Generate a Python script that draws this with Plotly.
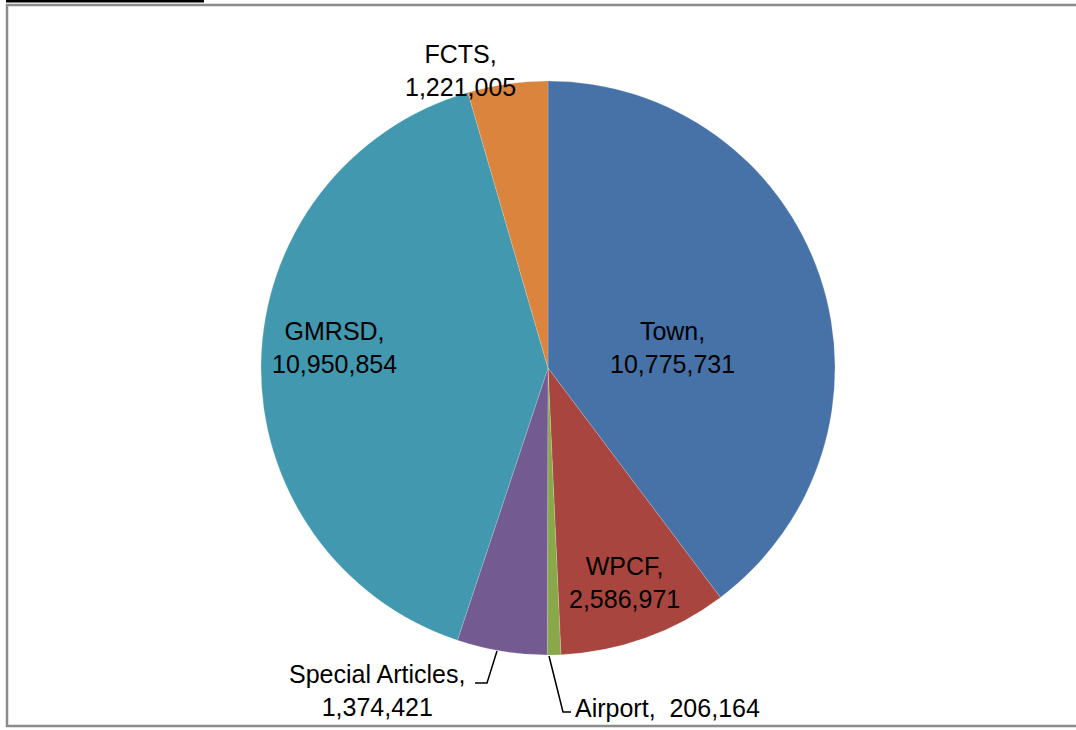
import plotly.graph_objects as go

labels = ["Town", "WPCF", "Airport", "Special Articles", "GMRSD", "FCTS"]
values = [10775731, 2586971, 206164, 1374421, 10950854, 1221005]
colors = ["#4672A8", "#A8453F", "#88A84A", "#735A90", "#4198AF", "#DA843E"]

W, H = 1076, 730

def px(x):
    return x / W

def py(y):
    return 1 - y / H

fig = go.Figure(go.Pie(
    labels=labels, values=values, sort=False, direction="clockwise", rotation=0,
    marker=dict(colors=colors, line=dict(color="rgba(255,255,255,0.35)", width=0.5)),
    textinfo="none", hoverinfo="label+value", showlegend=False,
    domain=dict(x=[px(261), px(835)], y=[py(655), py(81)]),
))

fnt = dict(family="Liberation Sans, Arial, sans-serif", size=25, color="#000000")

def fmt(v):
    return f"{v:,}"

label_pos = {
    "Town": (672, 347),
    "WPCF": (624, 582),
    "GMRSD": (334, 347),
    "FCTS": (460, 71),
    "Special Articles": (377, 690),
}
ann = []
for lab, val in zip(labels, values):
    if lab in label_pos:
        x, y = label_pos[lab]
        ann.append(dict(x=px(x), y=py(y), xref="paper", yref="paper",
                        text=f"{lab},<br>{fmt(val)}", showarrow=False,
                        font=fnt, align="center", xanchor="center", yanchor="middle"))
    elif lab == "Airport":
        ann.append(dict(x=px(573), y=py(708), xref="paper", yref="paper",
                        text=f"{lab},  {fmt(val)}", showarrow=False,
                        font=fnt, xanchor="left", yanchor="middle"))

shapes = [
    dict(type="rect", xref="paper", yref="paper", x0=px(7), y0=py(726), x1=px(1090), y1=py(5),
         line=dict(color="#8C8C8C", width=2.5), fillcolor="rgba(0,0,0,0)"),
    dict(type="line", xref="paper", yref="paper", x0=px(6), y0=py(1), x1=px(204), y1=py(1),
         line=dict(color="#000000", width=3)),
    dict(type="path", xref="paper", yref="paper",
         path=f"M {px(497)},{py(651)} L {px(487)},{py(683)} L {px(475)},{py(683)}",
         line=dict(color="#000000", width=1.5)),
    dict(type="path", xref="paper", yref="paper",
         path=f"M {px(549)},{py(656)} L {px(563)},{py(712)} L {px(571)},{py(712)}",
         line=dict(color="#000000", width=1.5)),
]

fig.update_layout(
    width=W, height=H, margin=dict(l=0, r=0, t=0, b=0),
    paper_bgcolor="white", plot_bgcolor="white",
    annotations=ann, shapes=shapes,
)

fig.write_html("out.html", config={"displayModeBar": False},
               post_script="document.body.style.margin='0';document.body.style.overflow='hidden';")
